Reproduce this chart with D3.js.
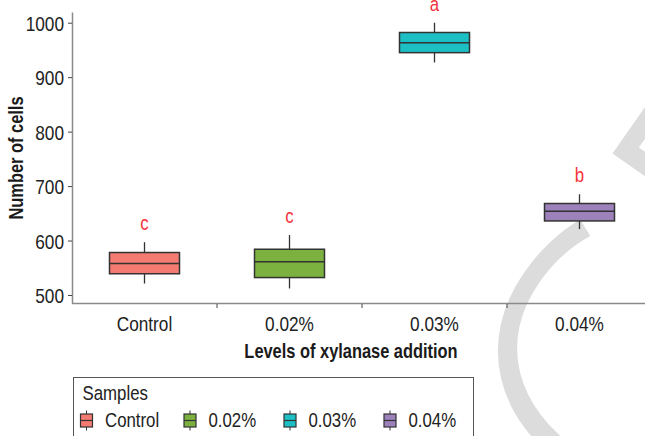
<!DOCTYPE html>
<html>
<head>
<meta charset="utf-8">
<script src="https://cdn.jsdelivr.net/npm/d3@7"></script>
<style>
body { margin: 0; background: #fff; }
text { font-family: "Liberation Sans", Arial, sans-serif; }
</style>
</head>
<body>
<div id="chart-area"></div>
<script>

// data
var categories = ["Control", "0.02%", "0.03%", "0.04%"];
var whiskerLow = [521, 512, 927, 621];
var q1 = [539, 532, 945, 636];
var medians = [558, 561, 963, 654];
var q3 = [578, 584, 982, 668];
var whiskerHigh = [597, 610, 1000, 685];
var letters = ["c", "c", "a", "b"];
var yTicks = [500, 600, 700, 800, 900, 1000];

var colors = ["#f47b72", "#7cb13f", "#1cbfc4", "#9d81bb"];

var W = 645, H = 436;

var svg = d3.select("#chart-area").append("svg")
    .attr("width", W)
    .attr("height", H);

// squeeze a text horizontally, the figure uses a condensed face
function narrow(sel, k) {
    sel.each(function () {
        var w = this.getComputedTextLength();
        d3.select(this)
            .attr("textLength", w * (k || 0.82))
            .attr("lengthAdjust", "spacingAndGlyphs");
    });
}

// watermark behind the chart, only a piece of it shows
var fs = 400;
var wm = svg.append("text")
    .style("font-family", "'Open Sans', sans-serif")
    .style("letter-spacing", "20px")
    .attr("font-weight", 300)
    .attr("font-size", fs)
    .attr("fill", "#dcdcdc")
    .text("ACCEPTED");
var xE = wm.node().getStartPositionOfChar(3).x + 0.09 * fs;
var ang = -55 * Math.PI / 180;
var u = [Math.cos(ang), Math.sin(ang)], dn = [-Math.sin(ang), Math.cos(ang)];
var capH = 0.714 * fs;
var corner = [610, 157];
var px = corner[0] - xE * u[0] + capH * dn[0],
    py = corner[1] - xE * u[1] + capH * dn[1];
wm.attr("transform", "translate(" + px + "," + py + ") rotate(-55)");

var x = d3.scaleBand()
    .domain(categories)
    .range([72, 652])
    .padding(0);

// 500 -> 295px, 1000 -> 22.7px ; axis runs from 303 up to 12
var y0 = d3.scaleLinear().domain([500, 1000]).range([295, 22.7]);
var y = d3.scaleLinear()
    .domain([y0.invert(303), y0.invert(12)])
    .range([303, 12]);

var boxW = 70;

// y axis
var yAxis = svg.append("g")
    .attr("transform", "translate(72,0)")
    .call(d3.axisLeft(y).tickValues(yTicks).tickFormat(d3.format("d"))
        .tickSize(4).tickPadding(4).tickSizeOuter(0));
yAxis.select(".domain").attr("stroke", "#8a8a8a").attr("stroke-width", 1.5);
yAxis.selectAll(".tick line").attr("stroke", "#444");
yAxis.selectAll(".tick text").attr("font-size", 21).attr("fill", "#222")
    .attr("dy", "0.36em")
    .style("font-family", "'Liberation Sans', Arial, sans-serif")
    .call(narrow);

// x axis: labels at band centres, ticks on band edges
var xAxis = svg.append("g")
    .attr("transform", "translate(0,303.5)")
    .call(d3.axisBottom(x).tickSize(0).tickPadding(13).tickSizeOuter(0));
xAxis.select(".domain").attr("stroke", "#8a8a8a").attr("stroke-width", 1.5)
    .attr("d", "M72,0H645");
xAxis.selectAll(".tick text").attr("font-size", 21).attr("fill", "#222")
    .style("font-family", "'Liberation Sans', Arial, sans-serif")
    .call(narrow);

svg.selectAll(".xtick")
    .data(categories.slice(1))
    .enter().append("line")
    .attr("class", "xtick")
    .attr("x1", function (d) { return x(d); })
    .attr("x2", function (d) { return x(d); })
    .attr("y1", 304)
    .attr("y2", 308)
    .attr("stroke", "#444");

// axis titles
svg.append("text")
    .attr("x", 351)
    .attr("y", 358)
    .attr("text-anchor", "middle")
    .attr("font-size", 20)
    .attr("font-weight", "bold")
    .attr("fill", "#1a1a1a")
    .text("Levels of xylanase addition")
    .call(narrow);

svg.append("text")
    .attr("transform", "translate(23,158) rotate(-90)")
    .attr("text-anchor", "middle")
    .attr("font-size", 20)
    .attr("font-weight", "bold")
    .attr("fill", "#1a1a1a")
    .text("Number of cells")
    .call(narrow);

// boxes
var boxes = svg.selectAll(".box")
    .data(categories)
    .enter().append("g")
    .attr("class", "box");

boxes.append("line")
    .attr("x1", function (d) { return x(d) + x.bandwidth() / 2; })
    .attr("x2", function (d) { return x(d) + x.bandwidth() / 2; })
    .attr("y1", function (d, i) { return y(whiskerHigh[i]); })
    .attr("y2", function (d, i) { return y(whiskerLow[i]); })
    .attr("stroke", "#333")
    .attr("stroke-width", 1.3);

boxes.append("rect")
    .attr("x", function (d) { return x(d) + x.bandwidth() / 2 - boxW / 2; })
    .attr("width", boxW)
    .attr("y", function (d, i) { return y(q3[i]); })
    .attr("height", function (d, i) { return y(q1[i]) - y(q3[i]); })
    .attr("fill", function (d, i) { return colors[i]; })
    .attr("stroke", "#333")
    .attr("stroke-width", 1.5);

boxes.append("line")
    .attr("x1", function (d) { return x(d) + x.bandwidth() / 2 - boxW / 2; })
    .attr("x2", function (d) { return x(d) + x.bandwidth() / 2 + boxW / 2; })
    .attr("y1", function (d, i) { return y(medians[i]); })
    .attr("y2", function (d, i) { return y(medians[i]); })
    .attr("stroke", "#333")
    .attr("stroke-width", 1.5);

boxes.append("text")
    .attr("x", function (d) { return x(d) + x.bandwidth() / 2; })
    .attr("y", function (d, i) { return y(whiskerHigh[i]) - 12; })
    .attr("text-anchor", "middle")
    .attr("font-size", 20.5)
    .attr("fill", "#f5333c")
    .text(function (d, i) { return letters[i]; })
    .call(narrow);

// legend
var legend = svg.append("g").attr("transform", "translate(73.5,377.5)");
legend.append("rect")
    .attr("width", 400)
    .attr("height", 80)
    .attr("fill", "#fff")
    .attr("fill-opacity", 0)
    .attr("stroke", "#555")
    .attr("stroke-width", 1);
legend.append("text")
    .attr("x", 9)
    .attr("y", 22)
    .attr("font-size", 20.5)
    .attr("fill", "#222")
    .text("Samples")
    .call(narrow);

var itemX = [7, 110.5, 210.5, 310.5];
var items = legend.selectAll(".item")
    .data(categories)
    .enter().append("g")
    .attr("class", "item")
    .attr("transform", function (d, i) { return "translate(" + itemX[i] + ",0)"; });
items.append("line")
    .attr("x1", 6).attr("x2", 6)
    .attr("y1", 33).attr("y2", 53)
    .attr("stroke", "#333");
items.append("rect")
    .attr("x", 0).attr("width", 12)
    .attr("y", 36.5).attr("height", 13)
    .attr("fill", function (d, i) { return colors[i]; })
    .attr("stroke", "#333")
    .attr("stroke-width", 1.2);
items.append("line")
    .attr("x1", 0).attr("x2", 12)
    .attr("y1", 43).attr("y2", 43)
    .attr("stroke", "#333")
    .attr("stroke-width", 1.2);
items.append("text")
    .attr("x", 24.5)
    .attr("y", 49.5)
    .attr("font-size", 20.5)
    .attr("fill", "#222")
    .text(function (d) { return d; })
    .call(narrow);

</script>
</body>
</html>
